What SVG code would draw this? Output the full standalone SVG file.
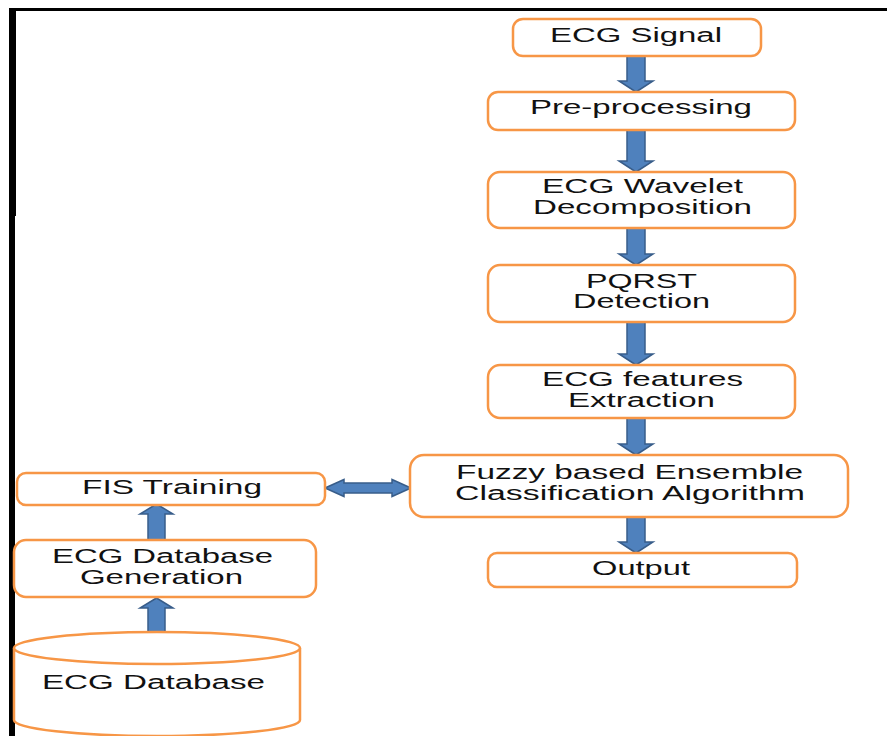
<svg xmlns="http://www.w3.org/2000/svg" width="887" height="736" viewBox="0 0 887 736">
<style>
.box{fill:#fff;stroke:#F79646;stroke-width:2.5}
.t{font-family:"Liberation Sans",Arial,sans-serif;font-size:20px;fill:#111}
.arr{fill:#4F81BD;stroke:#385D8A;stroke-width:1.5;stroke-linejoin:miter}
.frame{fill:#000}
</style>
<rect width="887" height="736" fill="#fff"/>
<g id="frame">
<rect class="frame" x="9" y="8" width="878" height="3"/>
<rect class="frame" x="9" y="8" width="7" height="208"/>
<rect class="frame" x="9" y="216" width="6" height="520"/>
</g>
<g id="connectors">
<path class="arr" d="M627,56 H645 V81 H653 L636,92 L619,81 H627 Z"/>
<path class="arr" d="M627,130 H645 V161 H653 L636,172 L619,161 H627 Z"/>
<path class="arr" d="M627,228 H645 V254 H653 L636,265 L619,254 H627 Z"/>
<path class="arr" d="M627,322 H645 V354 H653 L636,365 L619,354 H627 Z"/>
<path class="arr" d="M627,418 H645 V444 H653 L636,455 L619,444 H627 Z"/>
<path class="arr" d="M627,517 H645 V542 H653 L636,553 L619,542 H627 Z"/>
<path class="arr" d="M148,540 H165 V514 H173 L156.5,504 L140,514 H148 Z"/>
<path class="arr" d="M148,632 H165 V608 H173 L156.5,598 L140,608 H148 Z"/>
<path class="arr" d="M325,488 L344,479.5 V483 H392 V479.5 L411,488 L392,496.5 V493 H344 V496.5 Z"/>
</g>
<g id="ecg-signal">
<rect class="box" x="513" y="19" width="248" height="37" rx="10"/>
<text class="t" x="550" y="42" textLength="172" lengthAdjust="spacingAndGlyphs">ECG Signal</text>
</g>
<g id="pre-processing">
<rect class="box" x="488" y="92" width="307" height="38" rx="10"/>
<text class="t" x="530" y="114" textLength="222" lengthAdjust="spacingAndGlyphs">Pre-processing</text>
</g>
<g id="wavelet">
<rect class="box" x="488" y="172" width="307" height="56" rx="12"/>
<text class="t" x="542" y="193" textLength="201" lengthAdjust="spacingAndGlyphs">ECG Wavelet</text>
<text class="t" x="533" y="214" textLength="219" lengthAdjust="spacingAndGlyphs">Decomposition</text>
</g>
<g id="pqrst">
<rect class="box" x="488" y="265" width="307" height="57" rx="12"/>
<text class="t" x="586" y="288" textLength="111" lengthAdjust="spacingAndGlyphs">PQRST</text>
<text class="t" x="573" y="308" textLength="137" lengthAdjust="spacingAndGlyphs">Detection</text>
</g>
<g id="features">
<rect class="box" x="488" y="365" width="307" height="53" rx="12"/>
<text class="t" x="542" y="386" textLength="201" lengthAdjust="spacingAndGlyphs">ECG features</text>
<text class="t" x="568" y="407" textLength="147" lengthAdjust="spacingAndGlyphs">Extraction</text>
</g>
<g id="fuzzy">
<rect class="box" x="410" y="455" width="438" height="62" rx="14"/>
<text class="t" x="456" y="479" textLength="347" lengthAdjust="spacingAndGlyphs">Fuzzy based Ensemble</text>
<text class="t" x="455" y="500" textLength="350" lengthAdjust="spacingAndGlyphs">Classification Algorithm</text>
</g>
<g id="output">
<rect class="box" x="488" y="553" width="309" height="34" rx="9"/>
<text class="t" x="592" y="575" textLength="98" lengthAdjust="spacingAndGlyphs">Output</text>
</g>
<g id="fis-training">
<rect class="box" x="17" y="473" width="308" height="32" rx="9"/>
<text class="t" x="82" y="494" textLength="180" lengthAdjust="spacingAndGlyphs">FIS Training</text>
</g>
<g id="db-generation">
<rect class="box" x="14" y="540" width="302" height="57" rx="12"/>
<text class="t" x="52" y="563" textLength="221" lengthAdjust="spacingAndGlyphs">ECG Database</text>
<text class="t" x="80" y="584" textLength="163" lengthAdjust="spacingAndGlyphs">Generation</text>
</g>
<g id="ecg-database">
<path class="box" d="M14,648 A143,16 0 0 1 300,648 V720 A143,16 0 0 1 14,720 Z"/>
<path class="box" d="M14,648 A143,16 0 0 0 300,648" fill="none"/>
<text class="t" x="42" y="689" textLength="223" lengthAdjust="spacingAndGlyphs">ECG Database</text>
</g>
</svg>
